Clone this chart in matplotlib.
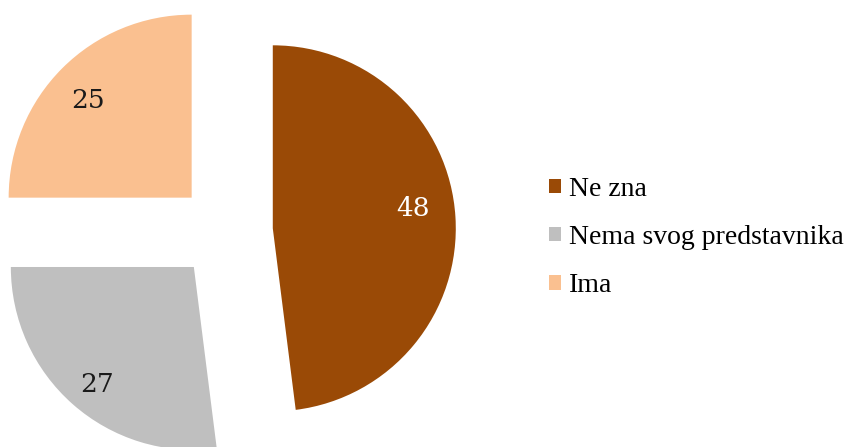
import numpy as np
import matplotlib.pyplot as plt
from matplotlib.patches import Patch

kategorije = ["Ne zna", "Nema svog predstavnika", "Ima"]
vrijednosti = [48, 27, 25]
boje = ["#9A4A06", "#BFBFBF", "#FAC090"]
boje_teksta = ["white", "#1a1a1a", "#1a1a1a"]
# mali pomaci natpisa (px)
pomaci = [(-6, 11), (0, -8), (0, -6)]

plt.rcParams["font.family"] = ["Liberation Serif", "DejaVu Serif"]

fig = plt.figure(figsize=(8.52, 4.47), dpi=100)
ax = fig.add_axes([0, 0, 1, 1])

klinovi, _, brojevi = ax.pie(
    vrijednosti,
    colors=boje,
    startangle=90,
    counterclock=False,
    explode=[0.26, 0.26, 0.26],
    radius=1.0,
    autopct=lambda p: f"{p:.0f}",
    pctdistance=0.8,
    wedgeprops={"linewidth": 0},
)

# centar pite u pikselima (225, 231), radijus 183 px
r = 183.0
ax.set_xlim(-225.3 / r, (852 - 225.3) / r)
ax.set_ylim(-(447 - 231.3) / r, 231.3 / r)
ax.set_aspect("auto")
ax.axis("off")

for t, c, (dx, dy) in zip(brojevi, boje_teksta, pomaci):
    t.set_color(c)
    t.set_fontsize(19)
    t.set_family("DejaVu Serif")
    x, y = t.get_position()
    t.set_position((x + dx / r, y + dy / r))

rucke = [Patch(facecolor=b, edgecolor="none") for b in boje]
fig.legend(
    rucke,
    kategorije,
    loc="upper left",
    bbox_to_anchor=(538 / 852, 1 - 166 / 447),
    frameon=False,
    fontsize=20,
    handlelength=0.42,
    handleheight=0.42,
    handletextpad=0.3,
    labelspacing=0.83,
    borderaxespad=0,
)

fig.savefig("out.png", dpi=100)
